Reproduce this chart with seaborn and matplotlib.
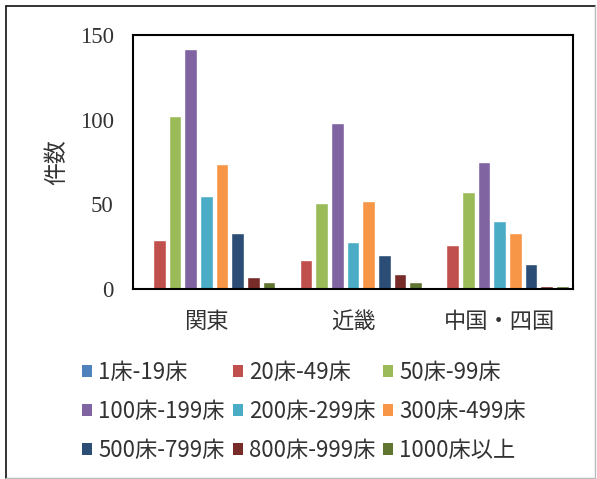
import matplotlib
matplotlib.use("Agg")
import matplotlib.pyplot as plt
import seaborn as sns
import pandas as pd
from matplotlib.patches import Patch
from matplotlib.lines import Line2D

categories = ["関東", "近畿", "中国・四国"]
series = ["1床-19床", "20床-49床", "50床-99床", "100床-199床", "200床-299床",
          "300床-499床", "500床-799床", "800床-999床", "1000床以上"]
values = {
    "1床-19床":    [0, 0, 1],
    "20床-49床":   [29, 17, 26],
    "50床-99床":   [102, 51, 57],
    "100床-199床": [142, 98, 75],
    "200床-299床": [55, 28, 40],
    "300床-499床": [74, 52, 33],
    "500床-799床": [33, 20, 15],
    "800床-999床": [7, 9, 2],
    "1000床以上":  [4, 4, 2],
}
colors = ["#4F81BD", "#C0504D", "#9BBB59", "#8064A2", "#4BACC6",
          "#F79646", "#2C4D75", "#772C2A", "#5F7530"]
yticks = [0, 50, 100, 150]

rows = []
for s in series:
    for c, v in zip(categories, values[s]):
        rows.append({"地域": c, "病床": s, "件数": v})
df = pd.DataFrame(rows)

sns.set_theme(style="white")
plt.rcParams['font.family'] = ['Noto Sans CJK JP', 'DejaVu Sans']

fig = plt.figure(figsize=(5.97, 4.79), dpi=100)
ax = fig.add_axes([133/597, 1-289/479, 440/597, 254/479])

sns.barplot(data=df, x="地域", y="件数", hue="病床", hue_order=series,
            order=categories, palette=colors, width=0.96, gap=0.2,
            saturation=1, ax=ax, legend=False)

ax.set_ylim(0, 150)
ax.set_xlim(-0.5, 2.5)
ax.set_yticks(yticks)
ax.set_yticklabels([str(t) for t in yticks], family=['Liberation Serif'], fontsize=16.5, color="#333333")
ax.tick_params(axis="y", length=0, pad=14)
ax.tick_params(axis="x", length=0, labelsize=16, labelcolor="#333333", pad=15)
ax.set_xlabel("")
ax.set_ylabel("件数", fontsize=16.5, color="#333333", labelpad=8)
for sp in ax.spines.values():
    sp.set_visible(True)
    sp.set_color("black")
    sp.set_linewidth(1.5)

handles = [Patch(facecolor=col, edgecolor="none") for col in colors]
order = [0, 3, 6, 1, 4, 7, 2, 5, 8]
leg = fig.legend([handles[i] for i in order], [series[i] for i in order],
                 ncol=3, loc="upper left", bbox_to_anchor=(82/597, 1-361/479),
                 frameon=False, fontsize=16, handlelength=0.45, handleheight=0.45,
                 handletextpad=0.28, columnspacing=0.35, labelspacing=0.72,
                 borderaxespad=0, borderpad=0)
for t in leg.get_texts():
    t.set_color("#333333")

# outer chart frame (dark left/top, light right/bottom as in the scan)
W, H = 597, 479
fig.add_artist(Line2D([6/W, 6/W], [1-6/H, 1-478/H], transform=fig.transFigure, color="#222222", lw=1.3))
fig.add_artist(Line2D([6/W, 595/W], [1-6/H, 1-6/H], transform=fig.transFigure, color="#222222", lw=1.3))
fig.add_artist(Line2D([595/W, 595/W], [1-6/H, 1-478/H], transform=fig.transFigure, color="#bbbbbb", lw=1.0))
fig.add_artist(Line2D([6/W, 595/W], [1-478/H, 1-478/H], transform=fig.transFigure, color="#bbbbbb", lw=1.0))

fig.savefig("out.png", dpi=100)
